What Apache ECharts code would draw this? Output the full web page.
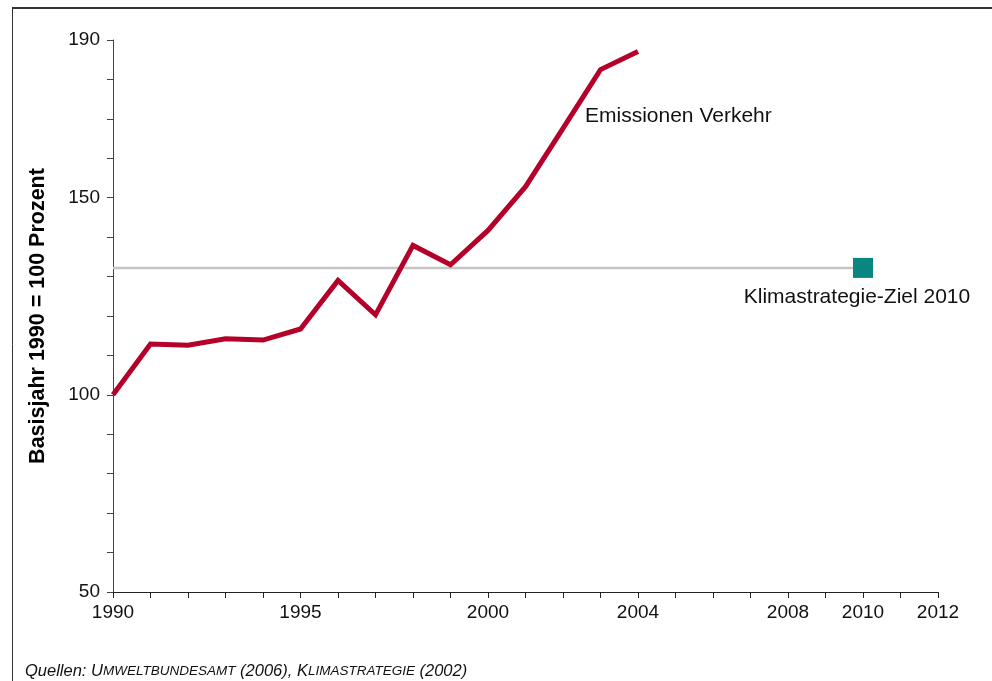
<!DOCTYPE html>
<html>
<head>
<meta charset="utf-8">
<script src="https://cdn.jsdelivr.net/npm/echarts@6/dist/echarts.min.js"></script>
<style>
  html, body { margin: 0; padding: 0; background: #fff; }
  #chart { width: 992px; height: 681px; }
</style>
</head>
<body>
<div id="chart"></div>
<script>
// Werte (Basisjahr 1990 = 100)
var years = [1990, 1991, 1992, 1993, 1994, 1995, 1996, 1997, 1998, 1999, 2000, 2001, 2002, 2003, 2004];
var emissionen = [100, 112.9, 112.6, 114.2, 113.9, 116.7, 129.0, 120.3, 137.9, 133.0, 141.7, 152.8, 167.6, 182.5, 187.1];
var zielJahr = 2010;
var zielWert = 132.2;
// nur diese Achsenbeschriftungen werden angezeigt
var xLabels = [1990, 1995, 2000, 2004, 2008, 2010, 2012];
var yLabels = [50, 100, 150, 190];

var font = 'Liberation Sans, Arial, sans-serif';
var chart = echarts.init(document.getElementById('chart'));

var option = {
  backgroundColor: '#fff',
  animation: false,
  textStyle: { fontFamily: font },
  grid: { left: 113, right: 54, top: 40, bottom: 89 },
  xAxis: {
    type: 'value',
    min: 1990,
    max: 2012,
    interval: 1,
    splitLine: { show: false },
    axisLine: { lineStyle: { color: '#222', width: 1 } },
    axisTick: { length: 6, lineStyle: { color: '#222' } },
    axisLabel: {
      margin: 11,
      fontSize: 19,
      color: '#111',
      fontFamily: font,
      formatter: function(v) {
        return xLabels.indexOf(v) >= 0 ? String(v) : '';
      },
    },
  },
  yAxis: {
    type: 'value',
    min: 50,
    max: 190,
    interval: 10,
    name: 'Basisjahr 1990 = 100 Prozent',
    nameLocation: 'middle',
    nameGap: 64,
    nameTextStyle: { fontSize: 21.5, fontWeight: 'bold', color: '#000', fontFamily: font },
    splitLine: { show: false },
    axisLine: { show: true, lineStyle: { color: '#444', width: 1 } },
    axisTick: { show: true, length: 6, lineStyle: { color: '#444' } },
    axisLabel: {
      margin: 13,
      fontSize: 19,
      color: '#111',
      fontFamily: font,
      formatter: function(v) {
        return yLabels.indexOf(v) >= 0 ? String(v) : '';
      },
    },
  },
  series: [
    {
      // Linie zum Zielwert
      name: 'Ziel',
      type: 'line',
      symbol: 'none',
      data: [[1990, zielWert], [zielJahr, zielWert]],
      lineStyle: { color: '#c4c4c4', width: 2.5 },
      z: 1,
    },
    {
      name: 'Emissionen Verkehr',
      type: 'line',
      symbol: 'none',
      data: years.map(function(y, i) { return [y, emissionen[i]]; }),
      lineStyle: { color: '#b5002a', width: 5, cap: 'butt', join: 'miter' },
      z: 3,
    },
    {
      name: 'Klimastrategie-Ziel 2010',
      type: 'scatter',
      symbol: 'rect',
      symbolSize: 20,
      data: [[zielJahr, zielWert]],
      itemStyle: { color: '#0b857f', opacity: 1 },
      label: {
        show: true,
        position: 'bottom',
        distance: 9,
        offset: [-6, 0],
        formatter: 'Klimastrategie-Ziel 2010',
        fontSize: 21,
        color: '#111',
        fontFamily: font,
      },
      z: 4,
    },
  ],
  graphic: [
    // Rahmen oben und links
    { type: 'line', shape: { x1: 12, y1: 8, x2: 992, y2: 8 }, style: { stroke: '#333', lineWidth: 2 } },
    { type: 'line', shape: { x1: 12.5, y1: 8, x2: 12.5, y2: 681 }, style: { stroke: '#333', lineWidth: 1 } },
    {
      type: 'text',
      left: 585,
      top: 106,
      style: { text: 'Emissionen Verkehr', font: '21px ' + font, fill: '#111' },
    },
    {
      type: 'text',
      left: 25,
      top: 663,
      style: {
        text: '{a|Quellen: U}{b|MWELTBUNDESAMT}{a| (2006), K}{b|LIMASTRATEGIE}{a| (2002)}',
        rich: {
          a: { fontSize: 16.5, fontStyle: 'italic', fontFamily: font, fill: '#111' },
          b: { fontSize: 13.5, fontStyle: 'italic', fontFamily: font, fill: '#111' },
        },
      },
    },
  ],
};

chart.setOption(option);
</script>
</body>
</html>
